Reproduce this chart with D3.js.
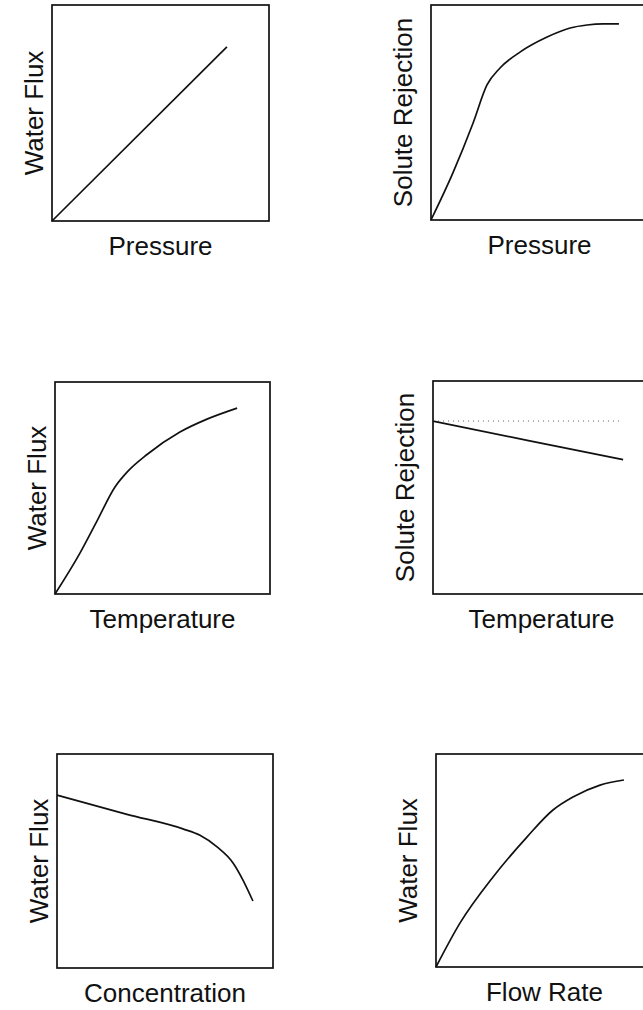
<!DOCTYPE html>
<html>
<head>
<meta charset="utf-8">
<script src="https://cdn.jsdelivr.net/npm/d3@7"></script>
<style>
  body { margin: 0; background: #fff; }
  text { font-family: "Liberation Sans", Arial, Helvetica, sans-serif; fill: #111; }
</style>
</head>
<body>
<div id="chart"></div>
<script>
// curve values, as fractions of each panel's axis range
var fluxVsPressure = [[0, 0], [0.806, 0.806]];
var rejectionVsPressure = [[0, 0], [0.101, 0.219], [0.194, 0.451], [0.258, 0.628], [0.318, 0.707],
  [0.410, 0.781], [0.535, 0.851], [0.641, 0.893], [0.719, 0.907], [0.793, 0.912], [0.866, 0.912]];
var fluxVsTemperature = [[0, 0], [0.116, 0.193], [0.195, 0.344], [0.279, 0.505], [0.335, 0.575],
  [0.428, 0.658], [0.581, 0.764], [0.707, 0.825], [0.847, 0.877]];
var rejectionVsTemperature = [[0, 0.812], [0.44, 0.72], [0.876, 0.631]];
var rejectionReference = [[0, 0.812], [0.872, 0.812]]; // dotted constant line
var fluxVsConcentration = [[0, 0.808], [0.324, 0.718], [0.583, 0.650], [0.662, 0.620], [0.741, 0.566],
  [0.815, 0.491], [0.861, 0.411], [0.907, 0.313]];
var fluxVsFlowRate = [[0, 0], [0.111, 0.207], [0.263, 0.423], [0.419, 0.610], [0.539, 0.737],
  [0.631, 0.798], [0.756, 0.854], [0.866, 0.878]];

var xLabels = ["Pressure", "Pressure", "Temperature", "Temperature", "Concentration", "Flow Rate"];
var yLabels = ["Water Flux", "Solute Rejection", "Water Flux", "Solute Rejection", "Water Flux", "Water Flux"];
var curves = [fluxVsPressure, rejectionVsPressure, fluxVsTemperature, rejectionVsTemperature, fluxVsConcentration, fluxVsFlowRate];

// panel boxes (layout only)
var boxes = [
  {x: 52, y: 5, w: 217, h: 216},
  {x: 431, y: 5, w: 217, h: 215},
  {x: 55, y: 382, w: 215, h: 212},
  {x: 433, y: 381, w: 217, h: 213},
  {x: 57, y: 754, w: 216, h: 214},
  {x: 436, y: 754, w: 217, h: 213}
];

var width = 643, height = 1010;

var svg = d3.select("#chart")
  .append("svg")
    .attr("width", width)
    .attr("height", height);

boxes.forEach(function(b, i) {
  var g = svg.append("g")
    .attr("transform", "translate(" + b.x + "," + b.y + ")");

  var x = d3.scaleLinear().domain([0, 1]).range([0, b.w]);
  var y = d3.scaleLinear().domain([0, 1]).range([b.h, 0]);

  var line = d3.line()
    .x(function(d) { return x(d[0]); })
    .y(function(d) { return y(d[1]); })
    .curve(d3.curveMonotoneX);

  // frame
  g.append("rect")
    .attr("width", b.w)
    .attr("height", b.h)
    .attr("fill", "none")
    .attr("stroke", "#111")
    .attr("stroke-width", 1.7);

  if (i == 3) {
    g.append("path")
      .datum(rejectionReference)
      .attr("d", line)
      .attr("fill", "none")
      .attr("stroke", "#666")
      .attr("stroke-width", 1)
      .attr("stroke-dasharray", "1,4");
  }

  g.append("path")
    .datum(curves[i])
    .attr("d", line)
    .attr("fill", "none")
    .attr("stroke", "#111")
    .attr("stroke-width", 1.7);

  g.append("text")
    .attr("x", b.w / 2)
    .attr("y", b.h + 34)
    .attr("text-anchor", "middle")
    .attr("font-size", 26)
    .text(xLabels[i]);

  var gap = (i % 2 == 0) ? 9 : 19; // left column labels sit closer to the frame
  g.append("text")
    .attr("transform", "translate(" + (-gap) + "," + (b.h / 2) + ") rotate(-90)")
    .attr("text-anchor", "middle")
    .attr("font-size", 26)
    .text(yLabels[i]);
});
</script>
</body>
</html>
